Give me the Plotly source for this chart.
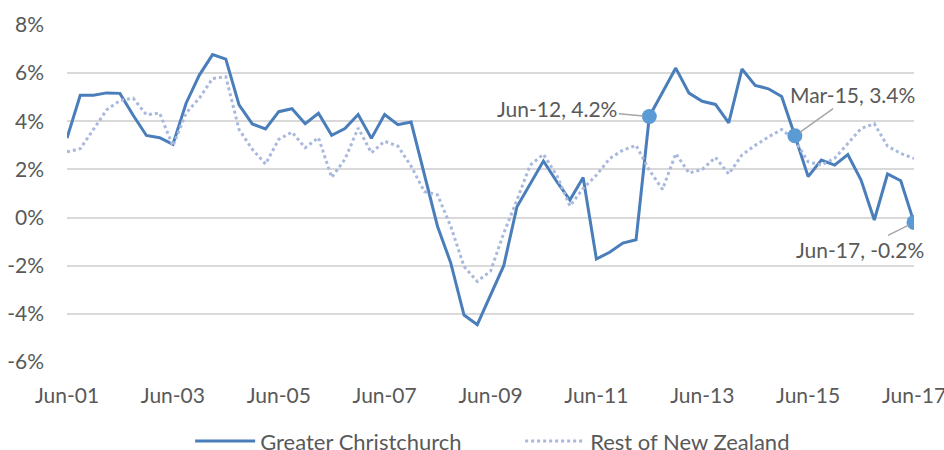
import plotly.graph_objects as go

quarters = []
for yr in range(1, 18):
    for m in ["Mar", "Jun", "Sep", "Dec"]:
        quarters.append(f"{m}-{yr:02d}")
quarters = quarters[1:-2]  # Jun-01 .. Jun-17

christchurch = [3.3, 5.08, 5.08, 5.18, 5.16, 4.25, 3.41, 3.32, 3.04, 4.75, 5.92, 6.77, 6.58,
                4.68, 3.89, 3.68, 4.40, 4.52, 3.90, 4.33, 3.42, 3.70, 4.28, 3.29, 4.28,
                3.86, 3.97, 1.8, -0.37, -1.89, -4.05, -4.45, -3.2, -2.0, 0.45, 1.42, 2.35,
                1.5, 0.73, 1.66, -1.72, -1.44, -1.06, -0.92, 4.2, 5.21, 6.21, 5.17, 4.83,
                4.70, 3.93, 6.17, 5.49, 5.35, 5.03, 3.4, 1.70, 2.39, 2.18, 2.62, 1.56,
                -0.1, 1.81, 1.53, -0.2]
rest_nz = [2.73, 2.86, 3.66, 4.48, 4.86, 4.96, 4.27, 4.34, 2.97, 4.34, 4.96, 5.78, 5.85,
           3.66, 2.84, 2.22, 3.25, 3.55, 2.90, 3.32, 1.67, 2.42, 3.72, 2.69, 3.17,
           2.97, 2.14, 1.08, 0.94, -0.37, -2.03, -2.65, -2.23, -0.65, 0.73, 2.18, 2.63,
           1.76, 0.48, 1.21, 1.76, 2.45, 2.8, 3.0, 1.97, 1.17, 2.66, 1.85, 2.0,
           2.5, 1.81, 2.6, 3.0, 3.35, 3.66, 3.21, 2.32, 2.18, 2.46, 3.08, 3.7,
           3.9, 2.97, 2.66, 2.46]

x_ticks = ["Jun-01", "Jun-03", "Jun-05", "Jun-07", "Jun-09", "Jun-11", "Jun-13", "Jun-15", "Jun-17"]
y_ticks = [-6, -4, -2, 0, 2, 4, 6, 8]
y_ticktext = [f"{v}%" for v in y_ticks]

highlight = ["Jun-12", "Mar-15", "Jun-17"]
hl_vals = [christchurch[quarters.index(q)] for q in highlight]

FONT = "Lato"
TXT = "#595959"
FS = 21

fig = go.Figure()
fig.add_trace(go.Scatter(x=quarters, y=christchurch, mode="lines", name="Greater Christchurch",
                         line=dict(color="#4A7EBB", width=3)))
fig.add_trace(go.Scatter(x=quarters, y=rest_nz, mode="lines", name="Rest of New Zealand",
                         line=dict(color="#A9B9DD", width=3, dash="dot")))
fig.add_trace(go.Scatter(x=highlight, y=hl_vals, mode="markers", showlegend=False,
                         marker=dict(color="#5B9BD5", size=15), hoverinfo="skip"))

ann_offsets = [(-92, -8), (58, -41), (-54, 27)]
for q, v, (ax, ay) in zip(highlight, hl_vals, ann_offsets):
    fig.add_annotation(x=q, y=v, text=f"{q}, {v:.1f}%", showarrow=True, arrowhead=0,
                       arrowwidth=1.5, arrowcolor="#A6A6A6", ax=ax, ay=ay, standoff=6,
                       font=dict(family=FONT, size=FS, color=TXT))

fig.update_layout(
    width=944, height=450,
    margin=dict(l=67, r=30, t=25, b=88, autoexpand=False),
    paper_bgcolor="white", plot_bgcolor="white",
    font=dict(family=FONT, size=FS, color=TXT),
    showlegend=True,
    legend=dict(orientation="h", x=0.535, xanchor="center", y=-0.235, yanchor="middle",
                font=dict(family=FONT, size=22, color=TXT), itemwidth=60,
                entrywidth=255, entrywidthmode="pixels"),
    xaxis=dict(type="category", categoryorder="array", categoryarray=quarters,
               range=[0, len(quarters) - 1], tickmode="array", tickvals=x_ticks, ticktext=x_ticks,
               showgrid=False, showline=False, ticks="", ticklabelstandoff=19,
               tickfont=dict(size=FS, color=TXT), automargin=False),
    yaxis=dict(range=[-6, 8], tickmode="array", tickvals=y_ticks, ticktext=y_ticktext,
               showgrid=True, gridcolor="#D9D9D9", gridwidth=1.5, zeroline=False,
               showline=False, ticks="", ticklabelstandoff=22,
               tickfont=dict(size=FS, color=TXT), automargin=False),
)

fig.write_html("out.html", config={"displayModeBar": False},
               post_script="document.body.style.margin='0';")
